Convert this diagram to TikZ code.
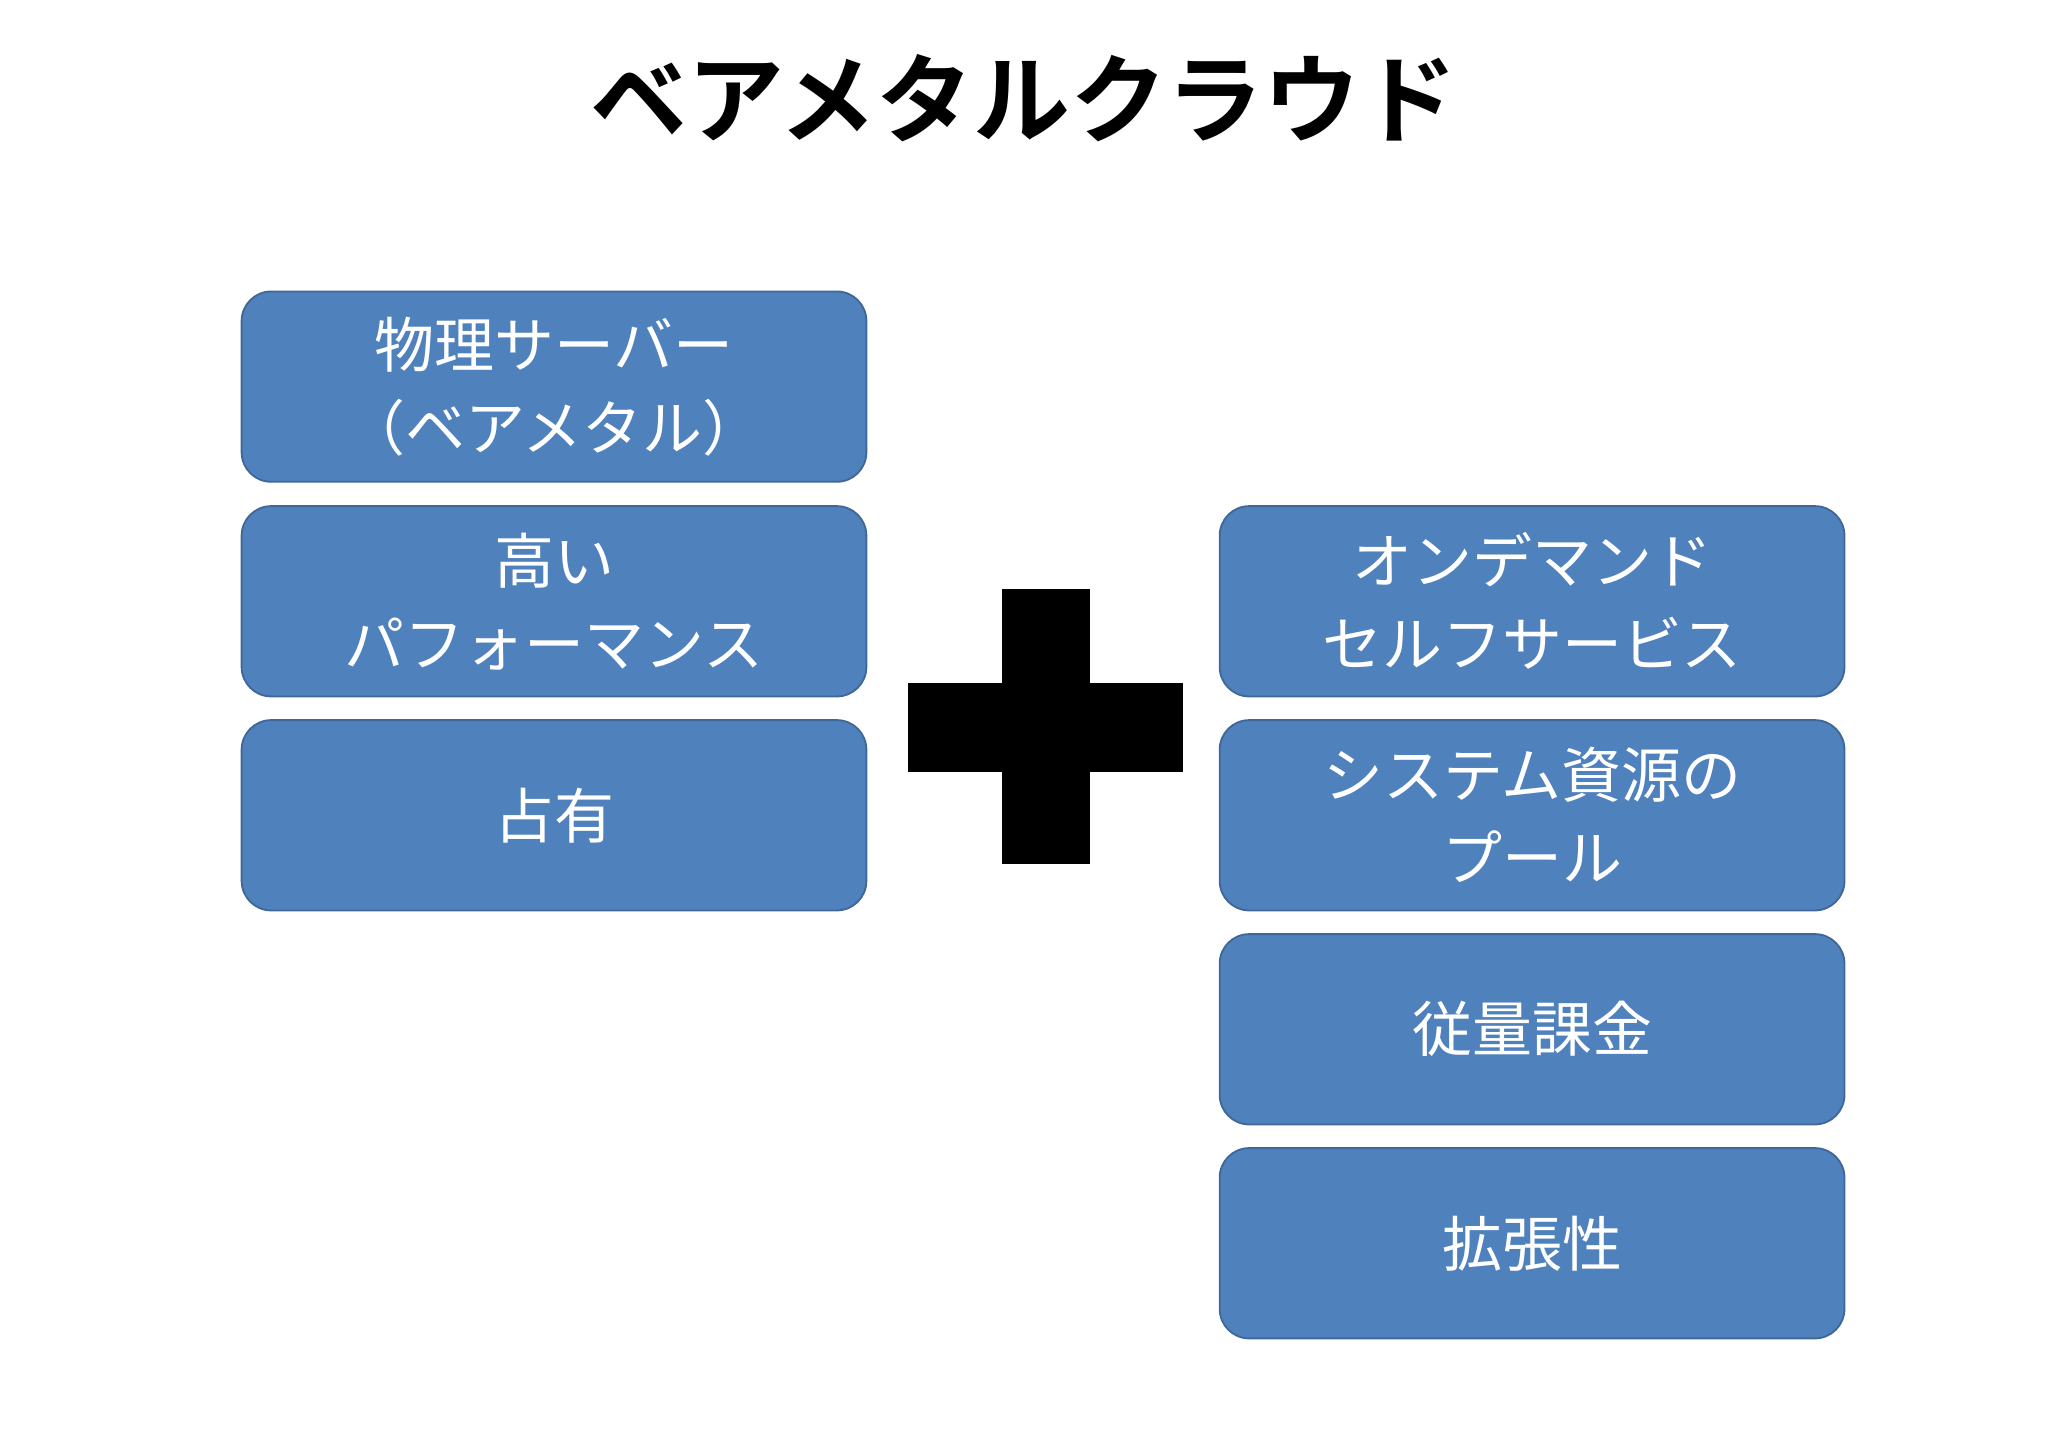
\documentclass[tikz,border=0pt]{standalone}
\usepackage{fontspec}
\newfontfamily\jp{Noto Sans CJK JP}
\newfontfamily\jpb{Noto Sans CJK JP Bold}
\definecolor{boxblue}{HTML}{4F81BD}
\begin{document}
\begin{tikzpicture}[x=0.02cm,y=-0.02cm,
  card/.style={fill=boxblue,draw=boxblue!80!black,line width=0.8pt,rounded corners=0.45cm,minimum width=9.52cm,minimum height=2.9cm,inner sep=0pt,text=white,align=center,font=\jp\fontsize{26}{36}\selectfont}]
\useasboundingbox (0,0) rectangle (1560,1103);
\node[font=\jpb\fontsize{42}{50}\selectfont] (title) at (780,75) {ベアメタルクラウド};
\node[card] (a1) at (422,294.5) {物理サーバー\\（ベアメタル）};
\node[card] (a2) at (422,458) {高い\\パフォーマンス};
\node[card] (a3) at (422,621) {占有};
\node[card] (b1) at (1167,458) {オンデマンド\\セルフサービス};
\node[card] (b2) at (1167,621) {システム資源の\\プール};
\node[card] (b3) at (1167,784) {従量課金};
\node[card] (b4) at (1167,947) {拡張性};
\fill[black] (763,449) rectangle (830,658);
\fill[black] (692,520) rectangle (901,588);
\end{tikzpicture}
\end{document}
